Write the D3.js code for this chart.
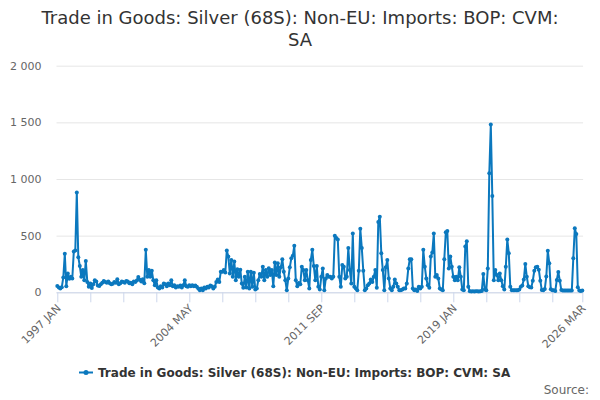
<!DOCTYPE html>
<html>
<head>
<meta charset="utf-8">
<script src="https://cdn.jsdelivr.net/npm/d3@7"></script>
<style>
  body { margin: 0; background: #fff; }
  svg { font-family: "DejaVu Sans", sans-serif; display: block; }
</style>
</head>
<body>
<svg id="chart" width="600" height="400"></svg>
<script>
// chart data, monthly from 1997 JAN to 2026 MAR
var title = ["Trade in Goods: Silver (68S): Non-EU: Imports: BOP: CVM:", "SA"];
var seriesName = "Trade in Goods: Silver (68S): Non-EU: Imports: BOP: CVM: SA";
var startYear = 1997;
var monthNames = ["JAN", "FEB", "MAR", "APR", "MAY", "JUN", "JUL", "AUG", "SEP", "OCT", "NOV", "DEC"];
var values = [
    55, 42, 33, 45, 131, 340, 54, 165, 120, 137, 122, 360,        // 1997
    370, 880, 310, 232, 137, 197, 107, 277, 92, 48, 77, 39,       // 1998
    71, 107, 95, 60, 55, 70, 85, 100, 90, 85, 95, 80,             // 1999
    70, 75, 90, 85, 115, 70, 80, 95, 90, 85, 100, 95,             // 2000
    80, 85, 70, 95, 90, 105, 135, 110, 95, 115, 80, 375,          // 2001
    137, 197, 137, 190, 107, 63, 107, 42, 33, 54, 42, 77,         // 2002
    71, 54, 77, 63, 107, 54, 63, 42, 54, 48, 60, 42,              // 2003
    63, 107, 54, 48, 63, 54, 63, 54, 60, 48, 33, 18,              // 2004
    33, 18, 42, 33, 48, 42, 60, 54, 33, 48, 92, 113,              // 2005
    92, 182, 182, 197, 175, 370, 316, 167, 286, 137, 271, 107,    // 2006
    203, 137, 200, 77, 40, 137, 42, 182, 33, 182, 48, 173,        // 2007
    24, 33, 107, 161, 137, 226, 107, 197, 137, 212, 152, 197,     // 2008
    54, 262, 152, 256, 137, 220, 292, 182, 107, 18, 122, 220,     // 2009
    300, 322, 411, 107, 54, 83, 71, 226, 197, 107, 197, 107,      // 2010
    33, 286, 375, 232, 107, 232, 48, 24, 137, 211, 18, 122,       // 2011
    152, 137, 137, 122, 137, 500, 480, 465, 137, 48, 241, 226,    // 2012
    122, 137, 390, 197, 77, 518, 48, 33, 18, 190, 560, 390,       // 2013
    190, 18, 33, 63, 77, 113, 92, 137, 197, 40, 620, 667,         // 2014
    345, 197, 18, 220, 286, 122, 33, 18, 48, 113, 77, 48,         // 2015
    18, 18, 24, 33, 33, 77, 211, 292, 292, 33, 18, 24,            // 2016
    12, 48, 33, 48, 375, 226, 122, 63, 40, 316, 352, 518,         // 2017
    137, 152, 122, 33, 24, 18, 292, 530, 540, 211, 316, 226,      // 2018
    137, 107, 137, 107, 220, 137, 24, 18, 405, 450, 48, 10,       // 2019
    8, 9, 8, 10, 9, 8, 10, 12, 161, 24, 18, 211,                  // 2020
    1050, 1480, 850, 107, 197, 152, 107, 167, 107, 54, 25, 226,   // 2021
    465, 345, 48, 18, 18, 18, 18, 18, 24, 48, 60, 113,            // 2022
    250, 137, 54, 44, 42, 103, 190, 220, 226, 200, 103, 20,       // 2023
    18, 30, 140, 367, 256, 26, 18, 18, 12, 109, 180, 103,         // 2024
    20, 15, 15, 15, 15, 15, 15, 15, 300, 565, 515, 45,            // 2025
    15, 12, 15                                                    // 2026
];
var labelledTicks = ["1997 JAN", "2004 MAY", "2011 SEP", "2019 JAN", "2026 MAR"];
var yTicks = [0, 500, 1000, 1500, 2000];

function draw() {
    var categories = values.map(function(v, i) {
        return (startYear + Math.floor(i / 12)) + " " + monthNames[i % 12];
    });

    var svg = d3.select("#chart");
    var plotLeft = 57.3, plotRight = 582.3, plotTop = 65.7, plotBottom = 292.3;
    var lineColor = "#0b78be";

    var x = d3.scalePoint().domain(categories).range([plotLeft, plotRight]);
    var y = d3.scaleLinear().domain([0, 2000]).range([plotBottom, plotTop]);
    var fmt = function(d) { return d3.format(",")(d).replace(/,/g, " "); };

    // title
    svg.append("text")
        .attr("text-anchor", "middle")
        .attr("fill", "#333333")
        .style("font-size", "18px")
        .selectAll("tspan")
        .data(title)
        .enter().append("tspan")
        .attr("x", 300)
        .attr("y", function(d, i) { return 24.3 + i * 21.4; })
        .text(function(d) { return d; });

    // grid + y labels
    var yAxis = svg.append("g")
        .attr("transform", "translate(" + (plotLeft - 0.8) + ",0)")
        .call(d3.axisLeft(y).tickValues(yTicks).tickSize(-(plotRight - plotLeft + 1.6)).tickPadding(15).tickFormat(fmt));
    yAxis.select(".domain").remove();
    yAxis.selectAll(".tick line").attr("stroke", "#e6e6e6");
    yAxis.selectAll(".tick text")
        .attr("fill", "#666666")
        .style("font-size", "11px")
        .style("font-family", "DejaVu Sans, sans-serif");

    // x axis
    var tickCats = categories.filter(function(c, i) { return i % 22 == 0 || i == categories.length - 1; });
    var xAxis = svg.append("g")
        .attr("transform", "translate(0," + plotBottom + ")")
        .call(d3.axisBottom(x).tickValues(tickCats).tickSize(10).tickSizeOuter(0)
            .tickFormat(function(d) { return labelledTicks.indexOf(d) >= 0 ? d : ""; }));
    xAxis.select(".domain").attr("stroke", "#ccd6eb").attr("d", "M" + (plotLeft - 0.8) + ",0.5H" + (plotRight + 0.8));
    xAxis.selectAll(".tick line").attr("stroke", "#ccd6eb");
    xAxis.selectAll(".tick text")
        .attr("fill", "#666666")
        .style("font-size", "11px")
        .style("font-family", "DejaVu Sans, sans-serif")
        .attr("text-anchor", "end")
        .attr("x", 0)
        .attr("y", 0)
        .attr("dy", "0.35em")
        .attr("transform", "translate(1,14) rotate(-45)");

    // series
    var line = d3.line()
        .x(function(d, i) { return x(categories[i]); })
        .y(function(d) { return y(d); });

    svg.append("path")
        .datum(values)
        .attr("d", line)
        .attr("fill", "none")
        .attr("stroke", lineColor)
        .attr("stroke-width", 2)
        .attr("stroke-linejoin", "round");

    svg.append("g").selectAll("circle")
        .data(values)
        .enter().append("circle")
        .attr("cx", function(d, i) { return x(categories[i]); })
        .attr("cy", function(d) { return y(d); })
        .attr("r", 2)
        .attr("fill", lineColor);

    // legend
    var legend = svg.append("g").attr("transform", "translate(79,372.5)");
    legend.append("line")
        .attr("x1", 0).attr("x2", 14)
        .attr("stroke", lineColor)
        .attr("stroke-width", 2);
    legend.append("circle")
        .attr("cx", 7).attr("r", 2.5)
        .attr("fill", lineColor);
    legend.append("text")
        .attr("x", 19)
        .attr("y", 4.5)
        .attr("fill", "#333333")
        .style("font-size", "12px")
        .style("font-weight", "bold")
        .text(seriesName);

    // credits
    svg.append("text")
        .attr("x", 589)
        .attr("y", 394)
        .attr("text-anchor", "end")
        .attr("fill", "#666666")
        .style("font-size", "12px")
        .text("Source:");
}

draw();
</script>
</body>
</html>
